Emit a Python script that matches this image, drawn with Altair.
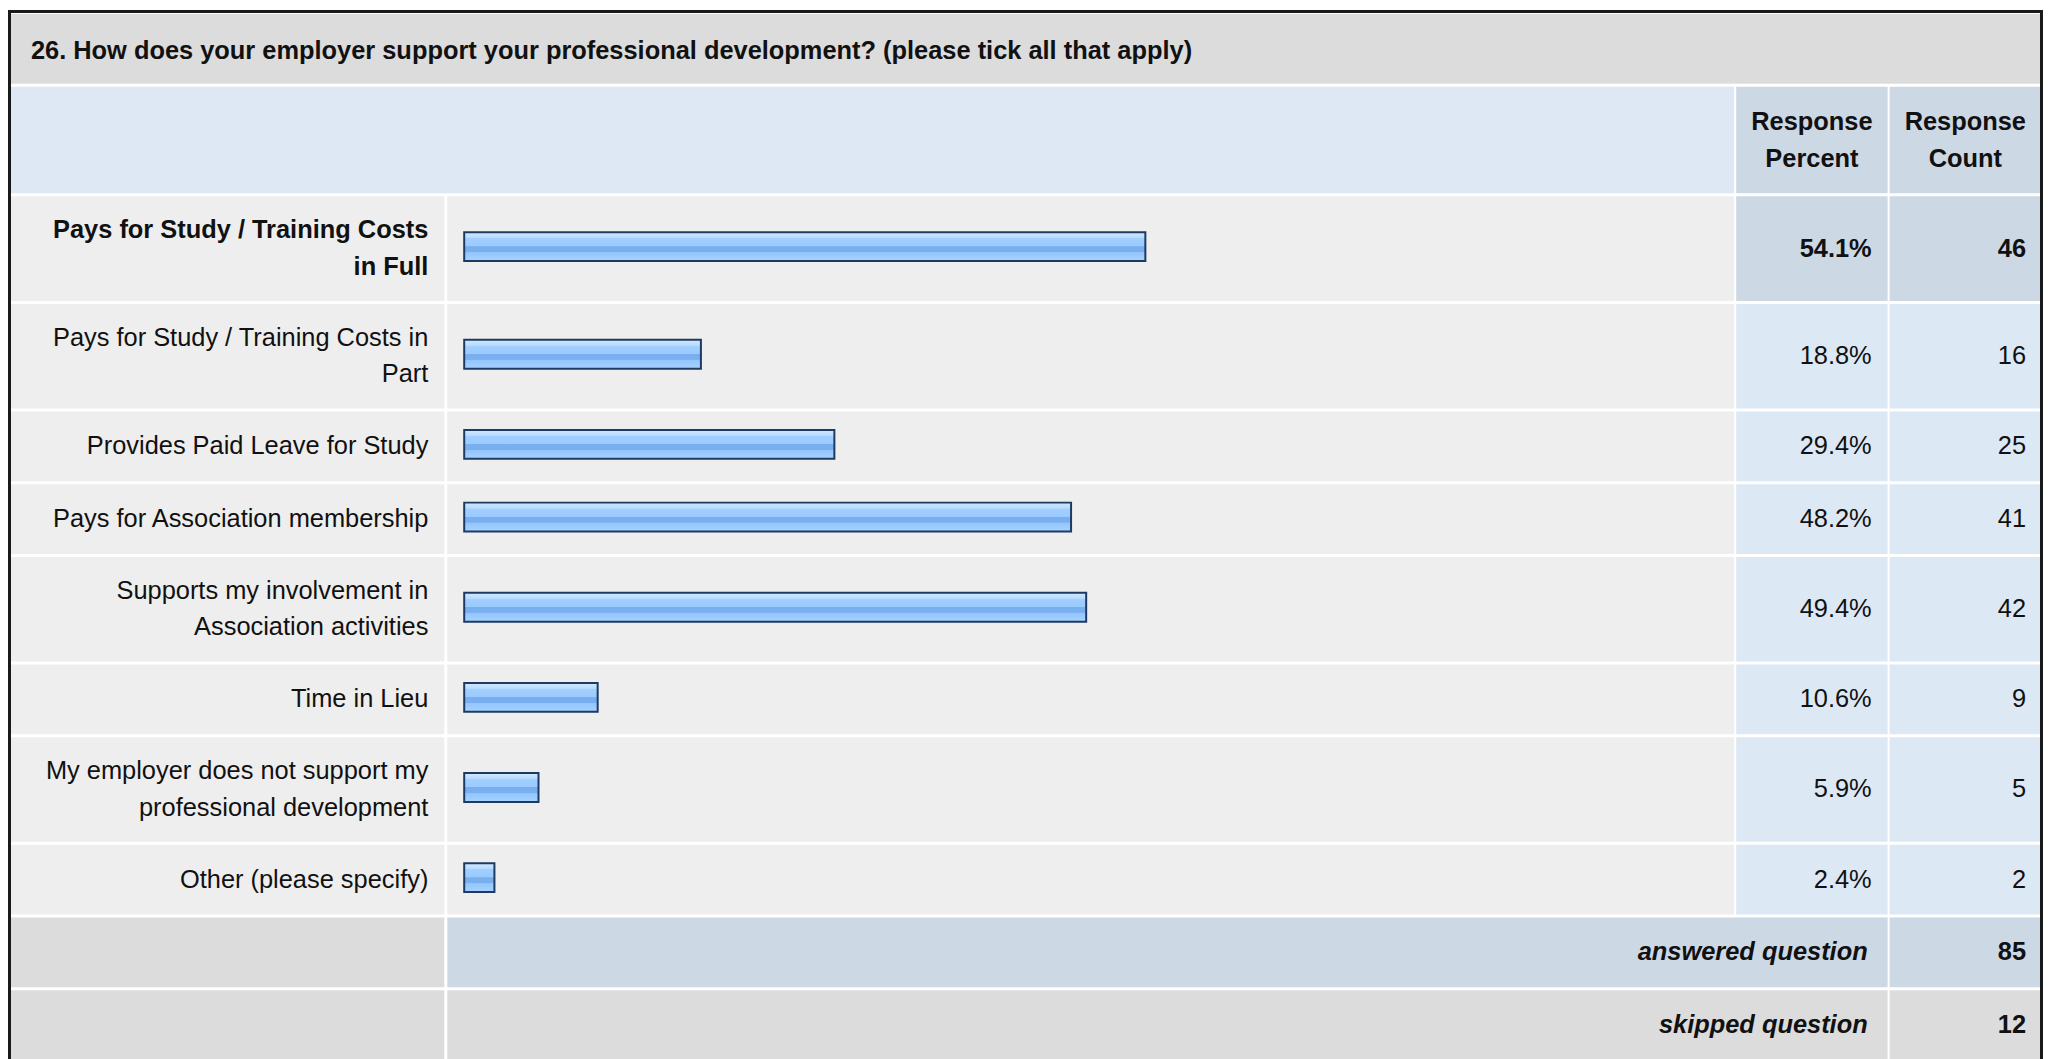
import altair as alt
import pandas as pd

# ---------------- data ----------------
title = "26. How does your employer support your professional development? (please tick all that apply)"
answer_labels = [
    ["Pays for Study / Training Costs", "in Full"],
    ["Pays for Study / Training Costs in", "Part"],
    ["Provides Paid Leave for Study"],
    ["Pays for Association membership"],
    ["Supports my involvement in", "Association activities"],
    ["Time in Lieu"],
    ["My employer does not support my", "professional development"],
    ["Other (please specify)"],
]
response_percent = [54.1, 18.8, 29.4, 48.2, 49.4, 10.6, 5.9, 2.4]
response_count = [46, 16, 25, 41, 42, 9, 5, 2]
header_percent = ["Response", "Percent"]
header_count = ["Response", "Count"]
summary_labels = ["answered question", "skipped question"]
summary_values = [85, 12]

# ---------------- layout (reference pixel space) ----------------
W, H = 2043, 1051
OFF = 6
FONT = "Liberation Sans"
FS = 25.5

def px(v):
    return v - OFF

GRAY = "#dcdcdc"
HEAD_LIGHT = "#dee8f4"
BLUE_DARK = "#cdd8e5"
ROW_BG = "#eeeeee"
VAL_BG = "#dde8f5"

L0, L1 = 9, 444
B0, B1 = 447, 1739
P0, P1 = 1741, 1893
C0, C1 = 1895, 2047

hi = response_percent.index(max(response_percent))

cells = []
def cell(x0, x1, y0, y1, fill):
    cells.append(dict(x0=px(x0), x1=px(x1), y0=px(y0), y1=px(y1), fill=fill))

# title and header rows
cell(L0, C1, 10, 80, GRAY)
cell(L0, B1, 83, 190, HEAD_LIGHT)
cell(P0, P1, 83, 190, BLUE_DARK)
cell(C0, C1, 83, 190, BLUE_DARK)

texts = []
def txt(t, x, y, style):
    texts.append(dict(text=t, x=px(x), y=px(y), style=style))

txt(title, 29, 47, "bold_l")
for i, line in enumerate(header_percent):
    txt(line, (P0 + P1) / 2, 137 + (i - 0.5) * 38, "bold_c")
for i, line in enumerate(header_count):
    txt(line, (C0 + C1) / 2, 137 + (i - 0.5) * 38, "bold_c")

bars = []
y = 193
for k, lines in enumerate(answer_labels):
    h = 105 if len(lines) > 1 else 70
    y0, y1 = y, y + h
    yc = (y0 + y1) / 2
    cell(L0, L1, y0, y1, ROW_BG)
    cell(B0, B1, y0, y1, ROW_BG)
    vb = BLUE_DARK if k == hi else VAL_BG
    cell(P0, P1, y0, y1, vb)
    cell(C0, C1, y0, y1, vb)
    st = "bold_r" if k == hi else "reg_r"
    n = len(lines)
    for i, line in enumerate(lines):
        txt(line, 428, yc + (i - (n - 1) / 2) * 36.5, st)
    txt(f"{response_percent[k]:.1f}%", 1877, yc, st)
    txt(str(response_count[k]), 2032, yc, st)
    bars.append(dict(pct=response_percent[k], y0=px(yc - 16.5), y1=px(yc + 12.5)))
    y = y1 + 3

for k, (lab, val) in enumerate(zip(summary_labels, summary_values)):
    y0, y1 = y, y + 70
    yc = (y0 + y1) / 2
    cell(L0, L1, y0, y1, GRAY)
    cell(B0, P1, y0, y1, BLUE_DARK if k == 0 else GRAY)
    cell(C0, C1, y0, y1, BLUE_DARK if k == 0 else GRAY)
    txt(lab, 1873, yc, "bi_r")
    txt(str(val), 2032, yc, "bold_r")
    y = y1 + 3

cells_df = pd.DataFrame(cells)
texts_df = pd.DataFrame(texts)
bars_df = pd.DataFrame(bars)

xs = alt.Scale(domain=[0, W], range=[0, W], nice=False, zero=False)
ys = alt.Scale(domain=[0, H], range=[0, H], nice=False, zero=False)

bg = alt.Chart(cells_df).mark_rect(strokeWidth=0).encode(
    x=alt.X("x0:Q", scale=xs, axis=None),
    x2="x1:Q",
    y=alt.Y("y0:Q", scale=ys, axis=None),
    y2="y1:Q",
    fill=alt.Fill("fill:N", scale=None),
)

gradient = {
    "gradient": "linear",
    "x1": 0, "y1": 0, "x2": 0, "y2": 1,
    "stops": [
        {"offset": 0.0, "color": "#d3e9ff"},
        {"offset": 0.2, "color": "#b6dbff"},
        {"offset": 0.22, "color": "#a2cfff"},
        {"offset": 0.48, "color": "#9acaff"},
        {"offset": 0.5, "color": "#79afef"},
        {"offset": 0.68, "color": "#79afef"},
        {"offset": 0.7, "color": "#93c5fc"},
        {"offset": 1.0, "color": "#a6d2ff"},
    ],
}

bar_layer = alt.Chart(bars_df).mark_rect(
    fill=gradient, stroke="#1c3a62", strokeWidth=2
).encode(
    x=alt.X("pct:Q", scale=alt.Scale(domain=[0, 100], range=[px(464), px(1728)], nice=False, zero=False), axis=None),
    x2=alt.datum(0),
    y=alt.Y("y0:Q", scale=ys, axis=None),
    y2="y1:Q",
)

frame = alt.Chart(cells_df).mark_rect(filled=False, stroke="#1a1a1a", strokeWidth=3).encode(
    x=alt.value(1.5), x2=alt.value(W - 1.5), y=alt.value(1.5), y2=alt.value(H + 20)
)

styles = {
    "reg_r": dict(align="right", fontWeight="normal", fontStyle="normal"),
    "bold_r": dict(align="right", fontWeight="bold", fontStyle="normal"),
    "bold_c": dict(align="center", fontWeight="bold", fontStyle="normal"),
    "bold_l": dict(align="left", fontWeight="bold", fontStyle="normal"),
    "bi_r": dict(align="right", fontWeight="bold", fontStyle="italic"),
}

text_layers = []
for name, props in styles.items():
    sub = texts_df[texts_df["style"] == name]
    text_layers.append(
        alt.Chart(sub).mark_text(
            baseline="middle", font=FONT, fontSize=FS, color="#111111", **props
        ).encode(
            x=alt.X("x:Q", scale=xs, axis=None),
            y=alt.Y("y:Q", scale=ys, axis=None),
            text="text:N",
        )
    )

chart = alt.layer(bg, bar_layer, frame, *text_layers).resolve_scale(
    x="independent", y="independent"
).properties(
    width=W, height=H, autosize=alt.AutoSizeParams(type="none"), padding=0,
    background="white",
).configure_view(stroke=None)

chart.save("out.html", embed_options={"renderer": "svg", "actions": False})
